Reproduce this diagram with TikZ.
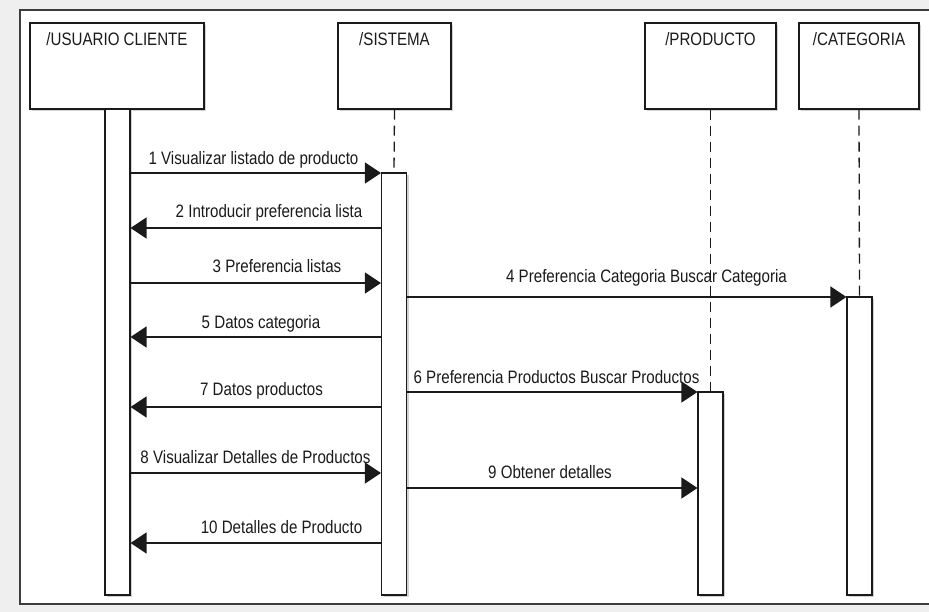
\documentclass[tikz,border=0pt]{standalone}
\usepackage{fontspec}
\setmainfont{Liberation Sans}[FakeStretch=0.84]
\usetikzlibrary{arrows.meta,shadows}

\definecolor{pagegray}{HTML}{EFEFEF}
\definecolor{framegray}{HTML}{3C3C3C}
\definecolor{ink}{HTML}{1A1A1A}

\tikzset{
  participant/.style={draw=ink, line width=1.2pt, fill=white, rectangle,
    inner sep=0pt, drop shadow={shadow xshift=2pt, shadow yshift=-2pt, fill=black!35, opacity=0.5}},
  actbar/.style={draw=ink, line width=1.2pt, fill=white, rectangle, minimum width=25pt,
    inner sep=0pt, drop shadow={shadow xshift=2pt, shadow yshift=-2pt, fill=black!35, opacity=0.5}},
  ptitle/.style={anchor=base, inner sep=0pt, font=\fontsize{18}{20}\selectfont, text=ink},
  msglabel/.style={anchor=base, inner sep=0pt, font=\fontsize{18}{20}\selectfont, text=ink},
  lifeline/.style={draw=ink, line width=1.3pt, dash pattern=on 10pt off 6pt},
  msg/.style={draw=ink, line width=1.5pt, -{Triangle[length=16pt,width=21pt]}},
}

\begin{document}
\begin{tikzpicture}[x=1pt, y=-1pt]
  \useasboundingbox (0,0) rectangle (929,612);
  \fill[pagegray] (0,0) rectangle (929,612);
  \draw[framegray, line width=2pt, fill=white] (20,10) rectangle (940,604);

  % message rows
  \coordinate (m1) at (0,173);
  \coordinate (m2) at (0,228);
  \coordinate (m3) at (0,283);
  \coordinate (m4) at (0,297);
  \coordinate (m5) at (0,337);
  \coordinate (m6) at (0,392);
  \coordinate (m7) at (0,407);
  \coordinate (m8) at (0,473);
  \coordinate (m9) at (0,488);
  \coordinate (m10) at (0,543);

  % participants
  \node[participant, minimum width=174pt, minimum height=86pt] (usr) at (117,66) {};
  \node[participant, minimum width=113pt, minimum height=86pt] (sys) at (394.5,66) {};
  \node[participant, minimum width=131pt, minimum height=86pt] (prod) at (710.5,66) {};
  \node[participant, minimum width=120pt, minimum height=86pt] (cat) at (859,66) {};

  \node[ptitle] at ([yshift=-23pt]usr.north) {/USUARIO CLIENTE};
  \node[ptitle] at ([yshift=-23pt]sys.north) {/SISTEMA};
  \node[ptitle] at ([yshift=-23pt]prod.north) {/PRODUCTO};
  \node[ptitle] at ([yshift=-23pt]cat.north) {/CATEGORIA};

  % activation bars
  \node[actbar, minimum height=486pt] (ub) at (117.5,352) {};
  \node[actbar, minimum height=422pt] (sb) at (394,384) {};
  \node[actbar, minimum height=203pt] (pb) at (710.5,493.5) {};
  \node[actbar, minimum height=298pt] (cb) at (859.5,446) {};

  % labels
  \node[msglabel] at (253.5,165) {1 Visualizar listado de producto};
  \node[msglabel] at (269,218) {2 Introducir preferencia lista};
  \node[msglabel] at (277,273) {3 Preferencia listas};
  \node[msglabel] at (646.5,283) {4 Preferencia Categoria Buscar Categoria};
  \node[msglabel] at (261,328) {5 Datos categoria};
  \node[msglabel] at (556.5,383) {6 Preferencia Productos Buscar Productos};
  \node[msglabel] at (261.5,395) {7 Datos productos};
  \node[msglabel] at (255.5,463) {8 Visualizar Detalles de Productos};
  \node[msglabel] at (550,478) {9 Obtener detalles};
  \node[msglabel] at (281.5,533) {10 Detalles de Producto};

  % lifelines
  \draw[lifeline] (sys.south) -- (sb.north);
  \draw[lifeline] (prod.south) -- (pb.north);
  \draw[lifeline] (cat.south) -- (cb.north);

  % messages
  \draw[msg] (ub.east |- m1) -- (sb.west |- m1);
  \draw[msg] (sb.west |- m2) -- (ub.east |- m2);
  \draw[msg] (ub.east |- m3) -- (sb.west |- m3);
  \draw[msg] (sb.east |- m4) -- (cb.west |- m4);
  \draw[msg] (sb.west |- m5) -- (ub.east |- m5);
  \draw[msg] (sb.east |- m6) -- (pb.west |- m6);
  \draw[msg] (sb.west |- m7) -- (ub.east |- m7);
  \draw[msg] (ub.east |- m8) -- (sb.west |- m8);
  \draw[msg] (sb.east |- m9) -- (pb.west |- m9);
  \draw[msg] (sb.west |- m10) -- (ub.east |- m10);
\end{tikzpicture}
\end{document}
